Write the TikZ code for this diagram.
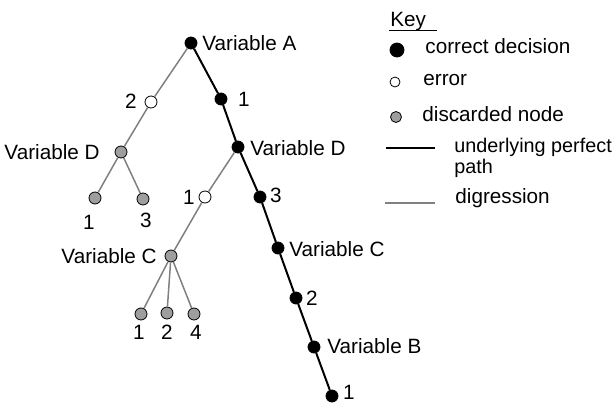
\documentclass[tikz,border=0pt]{standalone}
\usepackage{fontspec}
\setmainfont{Liberation Sans}
\definecolor{lgray}{RGB}{128,128,128}
\definecolor{ngray}{RGB}{158,158,158}
\tikzset{
	good/.style={circle, fill=black, draw=black, inner sep=0pt, minimum size=6pt},
	err/.style={circle, fill=white, draw=black, line width=0.4pt, inner sep=0pt, minimum size=6pt},
	dis/.style={circle, fill=ngray, draw=black, line width=0.4pt, inner sep=0pt, minimum size=6pt},
	perfect/.style={black, line width=1pt},
	digr/.style={lgray, line width=0.75pt},
	txt/.style={inner sep=0pt, font=\fontsize{10.35}{10.5}\selectfont}
}

\begin{document}
\begin{tikzpicture}[x=0.5pt, y=-0.5pt]
			\useasboundingbox (0,0) rectangle (616,402);
			% underlying perfect path
			\node[good] (a) at (191,43) {};
			\node[good] (a1) at (221,99) {};
			\node[good] (d) at (238,147) {};
			\node[good] (d3) at (260,197) {};
			\node[good] (c) at (278,248) {};
			\node[good] (c2) at (296,298) {};
			\node[good] (b) at (314,347) {};
			\node[good] (b1) at (332,396) {};
			% digressions
			\node[err] (a2) at (151,102) {};
			\node[dis] (dd) at (121,152) {};
			\node[dis] (dd1) at (95,198) {};
			\node[dis] (dd3) at (143,199) {};
			\node[err] (d1) at (205,197) {};
			\node[dis] (cc) at (171,256) {};
			\node[dis] (cc1) at (141,314) {};
			\node[dis] (cc2) at (167,313) {};
			\node[dis] (cc4) at (194,314) {};
			\draw[digr] (a) -- (a2) -- (dd);
			\draw[digr] (dd) -- (dd1);
			\draw[digr] (dd) -- (dd3);
			\draw[digr] (d) -- (d1) -- (cc);
			\draw[digr] (cc) -- (cc1);
			\draw[digr] (cc) -- (cc2);
			\draw[digr] (cc) -- (cc4);
			\draw[perfect] (a) -- (a1) -- (d) -- (d3) -- (c) -- (c2) -- (b) -- (b1);
			% labels
			\node[txt, anchor=west] (la) at (202,43) {Variable A};
			\node[txt] (la1) at (244,99) {1};
			\node[txt] (la2) at (131,101) {2};
			\node[txt, anchor=east] (ldd) at (100,152) {Variable D};
			\node[txt, anchor=west] (ld) at (250,148) {Variable D};
			\node[txt] (ldd1) at (89,222) {1};
			\node[txt] (ldd3) at (146,220) {3};
			\node[txt] (ld1) at (189,197) {1};
			\node[txt] (ld3) at (276,195) {3};
			\node[txt, anchor=east] (lcc) at (157,256) {Variable C};
			\node[txt, anchor=west] (lc) at (289,249) {Variable C};
			\node[txt] (lcc1) at (139,332) {1};
			\node[txt] (lcc2) at (167,332) {2};
			\node[txt] (lcc4) at (196,332) {4};
			\node[txt] (lc2) at (312,298) {2};
			\node[txt, anchor=west] (lb) at (327,346) {Variable B};
			\node[txt] (lb1) at (349,392) {1};
			% key
			\node[txt, anchor=west] (key) at (390,22) {Key};
			\draw[line width=0.5pt] (389,30) -- (437,30);
			\node[good, minimum size=7pt] (kgood) at (397,50) {};
			\node[txt, anchor=west] (tgood) at (425,46) {correct decision};
			\node[err, minimum size=5pt] (kerr) at (395,82) {};
			\node[txt, anchor=west] (terr) at (423,80) {error};
			\node[dis, minimum size=5.5pt] (kdis) at (396,117) {};
			\node[txt, anchor=west] (tdis) at (422,114) {discarded node};
			\draw[perfect] (386,148) -- (435,148);
			\node[txt, anchor=west, align=left, font=\fontsize{9.9}{10.5}\selectfont] (tperf) at (454,158) {underlying perfect\\path};
			\draw[digr] (385,203) -- (435,203);
			\node[txt, anchor=west] (tdigr) at (455,198) {digression};
		\end{tikzpicture}
\end{document}
